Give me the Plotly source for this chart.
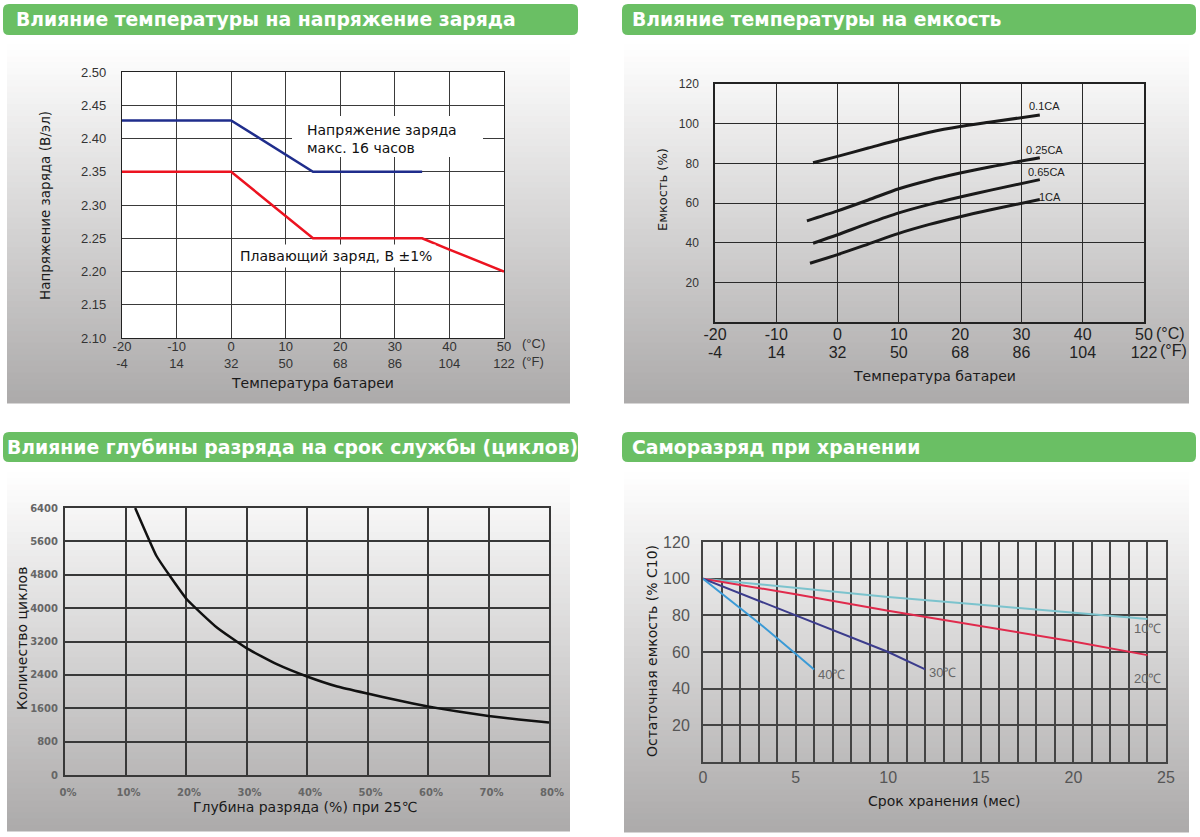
import plotly.graph_objects as go

W, H = 1200, 837


def fx(x):
    return x / W


def fy(y):
    return 1 - y / H


# ------------------------------------------------------------------ data
# Panel 1: temperature vs. charge voltage
temp_c_ticks = [-20, -10, 0, 10, 20, 30, 40, 50]
temp_f_ticks = [-4, 14, 32, 50, 68, 86, 104, 122]
volt_ticks = [2.10, 2.15, 2.20, 2.25, 2.30, 2.35, 2.40, 2.45, 2.50]
boost_temp = [-20, 0, 15, 35]
boost_volt = [2.427, 2.427, 2.35, 2.35]
float_temp = [-20, 0, 15, 35, 40, 50]
float_volt = [2.35, 2.35, 2.25, 2.25, 2.233, 2.20]
boost_label = "Напряжение заряда<br>макс. 16 часов"
float_label = "Плавающий заряд, В ±1%"

# Panel 2: temperature vs. capacity
cap_ticks = [20, 40, 60, 80, 100, 120]
rate_01_temp = [-4, 0, 5, 10, 15, 20, 25, 33]
rate_01_cap = [80.3, 83.5, 87.7, 91.9, 95.7, 98.6, 100.8, 104.4]
rate_025_temp = [-5, 0, 5, 10, 15, 20, 25, 33]
rate_025_cap = [51.0, 56.0, 61.5, 67.2, 71.5, 75.1, 78.3, 82.8]
rate_065_temp = [-4, 0, 5, 10, 15, 20, 25, 33]
rate_065_cap = [39.7, 44.0, 49.7, 55.0, 59.3, 63.0, 66.5, 71.8]
rate_1_temp = [-4.5, 0, 5, 10, 15, 20, 25, 33]
rate_1_cap = [29.6, 34.0, 39.3, 44.7, 49.2, 53.1, 56.6, 61.8]
rate_names = ["0.1CA", "0.25CA", "0.65CA", "1CA"]

# Panel 3: depth of discharge vs. cycle life
dod_ticks = [0, 10, 20, 30, 40, 50, 60, 70, 80]
cycle_ticks = [0, 800, 1600, 2400, 3200, 4000, 4800, 5600, 6400]
dod_pct = [11.6, 15.1, 17.2, 20.2, 25.1, 30, 35, 40, 45, 50, 55, 60, 65, 70, 75, 80]
cycles = [6400, 5256, 4800, 4200, 3536, 3040, 2656, 2360, 2120, 1952, 1792, 1640,
          1520, 1416, 1328, 1256]

# Panel 4: self-discharge during storage
month_ticks = [0, 5, 10, 15, 20, 25]
residual_ticks = [20, 40, 60, 80, 100, 120]
sd10_month = [0, 5, 10, 15, 20, 24]
sd10_cap = [100, 95, 90, 85.8, 81.5, 78]
sd20_month = [0, 5, 10, 15, 20, 24]
sd20_cap = [100, 91.5, 82.5, 74, 65.7, 58.3]
sd30_month = [0, 5, 10, 12]
sd30_cap = [100, 80, 60, 50.5]
sd40_month = [0, 2, 3, 5, 6]
sd40_cap = [100, 84, 76, 59, 50.5]
sd_names = ["10℃", "20℃", "30℃", "40℃"]

titles = [
    "Влияние температуры на напряжение заряда",
    "Влияние температуры на емкость",
    "Влияние глубины разряда на срок службы (циклов)",
    "Саморазряд при хранении",
]

# ------------------------------------------------------------------ style
TICK_FONT = "Liberation Sans, Arial, sans-serif"
TEXT_FONT = "DejaVu Sans, Verdana, sans-serif"
GREEN = "#6abf64"

fig = go.Figure()

# Panel 1 traces
fig.add_trace(go.Scatter(x=boost_temp, y=boost_volt, mode="lines",
                         line=dict(color="#1f2d8c", width=2.5),
                         xaxis="x", yaxis="y", showlegend=False))
fig.add_trace(go.Scatter(x=float_temp, y=float_volt, mode="lines",
                         line=dict(color="#ec1320", width=2.5),
                         xaxis="x", yaxis="y", showlegend=False))

# Panel 2 traces
for tx, cy in [(rate_01_temp, rate_01_cap), (rate_025_temp, rate_025_cap),
               (rate_065_temp, rate_065_cap), (rate_1_temp, rate_1_cap)]:
    fig.add_trace(go.Scatter(x=tx, y=cy, mode="lines",
                             line=dict(color="#1a1a1a", width=3, shape="spline",
                                       smoothing=0.8),
                             xaxis="x2", yaxis="y2", showlegend=False))

# Panel 3 trace
fig.add_trace(go.Scatter(x=dod_pct, y=cycles, mode="lines",
                         line=dict(color="#111111", width=2.5, shape="spline",
                                   smoothing=0.4),
                         xaxis="x3", yaxis="y3", showlegend=False))

# Panel 4 traces
sd_colors = ["#7cc3cd", "#e02a4c", "#3c3c8c", "#3a9ad6"]
for (mx, cy), col in zip([(sd10_month, sd10_cap), (sd20_month, sd20_cap),
                          (sd30_month, sd30_cap), (sd40_month, sd40_cap)], sd_colors):
    fig.add_trace(go.Scatter(x=mx, y=cy, mode="lines",
                             line=dict(color=col, width=2),
                             xaxis="x4", yaxis="y4", showlegend=False))

# empty traces for the Fahrenheit overlay axes
fig.add_trace(go.Scatter(x=[None], y=[None], xaxis="x5", yaxis="y",
                         showlegend=False, hoverinfo="skip"))
fig.add_trace(go.Scatter(x=[None], y=[None], xaxis="x6", yaxis="y2",
                         showlegend=False, hoverinfo="skip"))

# ------------------------------------------------------------------ axes
def base_axis(**kw):
    d = dict(showline=True, mirror=True, zeroline=False, ticks="",
             showgrid=True, fixedrange=True, automargin=False)
    d.update(kw)
    return d


P1X = [fx(122), fx(504)]
P2X = [fx(715), fx(1144)]

layout_axes = dict(
    # panel 1
    xaxis=base_axis(domain=P1X, anchor="y", range=[-20, 50],
                    tickvals=temp_c_ticks, ticktext=[str(v) for v in temp_c_ticks],
                    gridcolor="#3a3a3a", gridwidth=1, linecolor="#222", linewidth=1.3,
                    tickfont=dict(family=TICK_FONT, size=13, color="#333"),
                    ticklabelstandoff=-4),
    xaxis5=dict(overlaying="x", anchor="y", side="bottom", range=[-20, 50],
                domain=P1X, automargin=False,
                tickvals=temp_c_ticks, ticktext=[str(v) for v in temp_f_ticks],
                showgrid=False, showline=False, zeroline=False, ticks="",
                tickfont=dict(family=TICK_FONT, size=13, color="#333"),
                ticklabelstandoff=16, fixedrange=True),
    yaxis=base_axis(domain=[fy(338), fy(72)], anchor="x", range=[2.10, 2.50],
                    tickvals=volt_ticks, tickformat=".2f",
                    gridcolor="#3a3a3a", gridwidth=1, linecolor="#222", linewidth=1.3,
                    tickfont=dict(family=TICK_FONT, size=13, color="#333"),
                    ticklabelstandoff=12),
    # panel 2
    xaxis2=base_axis(domain=P2X, anchor="y2", range=[-20, 50],
                     tickvals=temp_c_ticks, ticktext=[str(v) for v in temp_c_ticks],
                     gridcolor="#2a2a2a", gridwidth=1.2, linecolor="#222", linewidth=1.5,
                     tickfont=dict(family=TICK_FONT, size=16, color="#222"),
                     ticklabelstandoff=-3),
    xaxis6=dict(overlaying="x2", anchor="y2", side="bottom", range=[-20, 50],
                domain=P2X, automargin=False,
                tickvals=temp_c_ticks, ticktext=[str(v) for v in temp_f_ticks],
                showgrid=False, showline=False, zeroline=False, ticks="",
                tickfont=dict(family=TICK_FONT, size=16, color="#222"),
                ticklabelstandoff=19, fixedrange=True),
    yaxis2=base_axis(domain=[fy(322), fy(84)], anchor="x2", range=[0, 120],
                     tickvals=cap_ticks,
                     gridcolor="#2a2a2a", gridwidth=1.2, linecolor="#222", linewidth=1.5,
                     tickfont=dict(family=TICK_FONT, size=12, color="#333"),
                     ticklabelstandoff=12),
    # panel 3
    xaxis3=base_axis(domain=[fx(65), fx(549)], anchor="y3", range=[0, 80],
                     tickvals=dod_ticks, ticktext=[f"{v}%" for v in dod_ticks],
                     gridcolor="#383838", gridwidth=2, linecolor="#383838", linewidth=2,
                     tickfont=dict(family=TEXT_FONT, size=10, color="#666",
                                   weight="bold"),
                     ticklabelstandoff=7, ticklabelshift=3),
    yaxis3=base_axis(domain=[fy(775), fy(508)], anchor="x3", range=[0, 6400],
                     tickvals=cycle_ticks,
                     gridcolor="#383838", gridwidth=2, linecolor="#383838", linewidth=2,
                     tickfont=dict(family=TEXT_FONT, size=10, color="#666",
                                   weight="bold"),
                     ticklabelstandoff=3),
    # panel 4
    xaxis4=base_axis(domain=[fx(703), fx(1166)], anchor="y4", range=[0, 25],
                     tickvals=month_ticks,
                     gridcolor="#444", gridwidth=2, linecolor="#444", linewidth=2,
                     minor=dict(dtick=1, tick0=0, showgrid=True, gridcolor="#444",
                                gridwidth=2, ticks=""),
                     tickfont=dict(family=TICK_FONT, size=16, color="#555"),
                     ticklabelstandoff=0),
    yaxis4=base_axis(domain=[fy(762), fy(542)], anchor="x4", range=[0, 120],
                     tickvals=residual_ticks,
                     gridcolor="#444", gridwidth=2, linecolor="#444", linewidth=2,
                     tickfont=dict(family=TICK_FONT, size=16, color="#555"),
                     ticklabelstandoff=8),
)

# ------------------------------------------------------------------ shapes
shapes = []


def gradient(x0, y0, x1, y1, n=60):
    h = (y1 - y0) / n
    for i in range(n):
        t = (i + 0.5) / n
        r = int(round(255 - 83 * t))
        g = int(round(255 - 85 * t))
        b = int(round(255 - 85 * t))
        shapes.append(dict(type="rect", xref="paper", yref="paper",
                           x0=fx(x0), x1=fx(x1), y0=fy(y0 + i * h - 0.6),
                           y1=fy(y0 + (i + 1) * h + 0.6),
                           fillcolor=f"rgb({r},{g},{b})", line=dict(width=0),
                           layer="below"))


def rounded(x0, y0, x1, y1, r, color):
    rx, ry = r / W, r / H
    X0, X1, Y0, Y1 = fx(x0), fx(x1), fy(y0), fy(y1)
    path = (f"M {X0 + rx},{Y0} L {X1 - rx},{Y0} Q {X1},{Y0} {X1},{Y0 - ry} "
            f"L {X1},{Y1 + ry} Q {X1},{Y1} {X1 - rx},{Y1} L {X0 + rx},{Y1} "
            f"Q {X0},{Y1} {X0},{Y1 + ry} L {X0},{Y0 - ry} Q {X0},{Y0} {X0 + rx},{Y0} Z")
    shapes.append(dict(type="path", xref="paper", yref="paper", path=path,
                       fillcolor=color, line=dict(width=0), layer="below"))


gradient(7, 45, 570, 403)
gradient(624, 45, 1189, 403)
gradient(7, 473, 570, 831)
gradient(624, 473, 1189, 832)

# white plot area of panel 1
shapes.append(dict(type="rect", xref="paper", yref="paper",
                   x0=fx(122), x1=fx(504), y0=fy(338), y1=fy(72),
                   fillcolor="white", line=dict(width=0), layer="below"))

rounded(3, 4, 578, 35, 6, GREEN)
rounded(622, 4, 1196, 35, 6, GREEN)
rounded(3, 432, 578, 462, 6, GREEN)
rounded(622, 432, 1196, 462, 6, GREEN)

# white box behind the boost-charge label
shapes.append(dict(type="rect", xref="paper", yref="paper",
                   x0=fx(292), x1=fx(483), y0=fy(157), y1=fy(116),
                   fillcolor="white", line=dict(width=0), layer="above"))

# ------------------------------------------------------------------ annotations
ann = []
header_x = [14, 630, 5, 630]
header_y = [20, 19, 447, 447]
for t, hx, hy in zip(titles, header_x, header_y):
    ann.append(dict(text=t, xref="paper", yref="paper", x=fx(hx), y=fy(hy),
                    xanchor="left", yanchor="middle", showarrow=False,
                    font=dict(family=TEXT_FONT, size=18.8, color="white",
                              weight="bold")))


def label(text, x, y, size=14, angle=0, color="#1a1a1a", family=TEXT_FONT,
          xanchor="center"):
    ann.append(dict(text=text, xref="paper", yref="paper", x=fx(x), y=fy(y),
                    xanchor=xanchor, yanchor="middle", showarrow=False,
                    textangle=angle, font=dict(family=family, size=size, color=color)))


# axis titles
label("Напряжение заряда (В/эл)", 45, 206, size=13.5, angle=-90)
label("Температура батареи", 312, 383, size=14)
label("Емкость (%)", 663, 190, size=13, angle=-90)
label("Температура батареи", 934, 376, size=14)
label("Количество циклов", 22, 639, size=14, angle=-90)
label("Глубина разряда (%) при 25℃", 305, 807, size=14)
label("Остаточная емкость (% С10)", 652, 651, size=14, angle=-90)
label("Срок хранения (мес)", 944, 801, size=14)

# unit markers
label("(°C)", 520, 344, size=13, color="#333", family=TICK_FONT, xanchor="left")
label("(°F)", 520, 362, size=13, color="#333", family=TICK_FONT, xanchor="left")
label("(°C)", 1154, 333, size=16, color="#222", family=TICK_FONT, xanchor="left")
label("(°F)", 1158, 350, size=16, color="#222", family=TICK_FONT, xanchor="left")

# panel 1 curve labels
ann.append(dict(text=boost_label, xref="x", yref="y", x=13.5, y=2.399,
                xanchor="left", yanchor="middle", align="left", showarrow=False,
                font=dict(family=TEXT_FONT, size=14, color="#111")))
ann.append(dict(text=float_label, xref="x", yref="y", x=19.3, y=2.2235,
                xanchor="center", yanchor="middle", showarrow=False,
                bgcolor="white", borderpad=3,
                font=dict(family=TEXT_FONT, size=14, color="#111")))

# panel 2 rate labels
rate_label_pos = [(30.85, 108.7), (30.4, 86.9), (30.7, 75.4), (32.5, 62.8)]
for name, (lx, ly) in zip(rate_names, rate_label_pos):
    ann.append(dict(text=name, xref="x2", yref="y2", x=lx, y=ly, xanchor="left",
                    yanchor="middle", showarrow=False,
                    font=dict(family=TICK_FONT, size=11, color="#222")))

# panel 4 temperature labels
sd_label_pos = [(23.15, 72.6), (23.15, 45.3), (12.07, 49), (6.09, 48)]
for name, (lx, ly) in zip(sd_names, sd_label_pos):
    ann.append(dict(text=name, xref="x4", yref="y4", x=lx, y=ly, xanchor="left",
                    yanchor="middle", showarrow=False,
                    font=dict(family=TICK_FONT, size=13, color="#666")))

fig.update_layout(
    width=W, height=H, autosize=False,
    margin=dict(l=0, r=0, t=0, b=0, pad=0, autoexpand=False),
    paper_bgcolor="white", plot_bgcolor="rgba(0,0,0,0)",
    shapes=shapes, annotations=ann, showlegend=False,
    hovermode=False,
    **layout_axes,
)

fig.write_html("out.html", config={"displayModeBar": False},
               post_script="document.body.style.margin='0';"
                           "document.body.style.overflow='hidden';")
